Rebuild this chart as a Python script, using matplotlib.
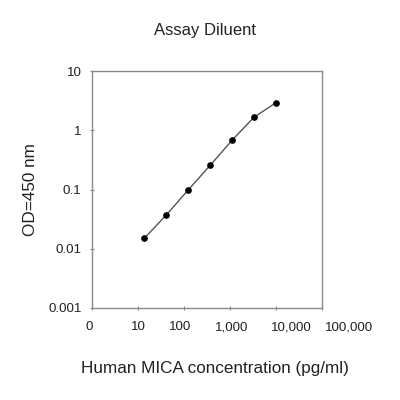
import matplotlib
matplotlib.use("Agg")
import matplotlib.pyplot as plt
from matplotlib.ticker import FixedLocator, NullLocator
from matplotlib.transforms import ScaledTranslation

plt.rcParams['font.family'] = ['Liberation Sans', 'DejaVu Sans']

conc = [13.7, 41, 123, 370, 1111, 3333, 10000]
od = [0.015, 0.037, 0.098, 0.255, 0.68, 1.66, 2.92]
xticks = [1, 10, 100, 1000, 10000, 100000]
xticklabels = ["0", "10", "100", "1,000", "10,000", "100,000"]
yticks = [0.001, 0.01, 0.1, 1, 10]
yticklabels = ["0.001", "0.01", "0.1", "1", "10"]

# horizontal offsets (pixels) of x tick labels, as in the reference layout
label_shift_px = [-2.5, 0, -4, 2, 15, 27]

fig = plt.figure(figsize=(4, 4), dpi=100)
ax = fig.add_axes([0.23, 0.23, 0.575, 0.5925])
ax.plot(conc, od, color="#555555", lw=1.0, marker="o", ms=3.8,
        mfc="black", mec="black")
ax.set_xscale("log")
ax.set_yscale("log")
ax.set_xlim(1, 100000)
ax.set_ylim(0.001, 10)
ax.xaxis.set_major_locator(FixedLocator(xticks))
ax.xaxis.set_minor_locator(NullLocator())
ax.yaxis.set_major_locator(FixedLocator(yticks))
ax.yaxis.set_minor_locator(NullLocator())
ax.set_xticklabels(xticklabels)
ax.set_yticklabels(yticklabels)
for s in ax.spines.values():
    s.set_color("#8a8a8a")
    s.set_linewidth(1.0)
ax.tick_params(axis="both", colors="#8a8a8a", labelcolor="#222222",
               labelsize=9.6, length=3, direction="inout", pad=6)
ax.tick_params(axis="x", pad=8)
for lab, dx in zip(ax.get_xticklabels(), label_shift_px):
    lab.set_transform(lab.get_transform() +
                      ScaledTranslation(dx / 100, 0, fig.dpi_scale_trans))
ax.set_xlabel("Human MICA concentration (pg/ml)", fontsize=12.3,
              color="#222222")
ax.xaxis.set_label_coords(0.535, -0.222)
ax.set_ylabel("OD=450 nm", fontsize=12.3, color="#222222")
ax.yaxis.set_label_coords(-0.235, 0.5)
fig.text(0.513, 0.925, "Assay Diluent", ha="center", va="center",
         fontsize=12, color="#222222")
fig.savefig("out.png", dpi=100, facecolor="white")
